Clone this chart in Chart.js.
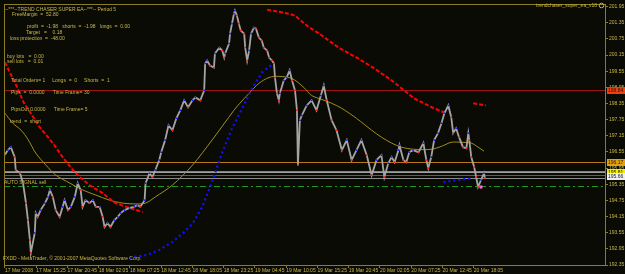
<!DOCTYPE html>
<html>
<head>
<meta charset="utf-8">
<script src="https://cdn.jsdelivr.net/npm/chart.js@4.4.1/dist/chart.umd.min.js"></script>
<style>
  html, body { margin: 0; padding: 0; background: #0b0b06; }
  #wrap { width: 625px; height: 274px; position: relative; }
</style>
</head>
<body>
<div id="wrap"><canvas id="chart"></canvas></div>
<script>
// x values are 5 minute bar numbers, counted from the first bar on screen
const timeLabels = ['17 Mar 2008', '17 Mar 15:25', '17 Mar 20:45', '18 Mar 02:05', '18 Mar 07:25',
  '18 Mar 12:45', '18 Mar 18:05', '18 Mar 23:25', '19 Mar 04:45', '19 Mar 10:05', '19 Mar 15:25',
  '19 Mar 20:45', '20 Mar 02:05', '20 Mar 07:25', '20 Mar 12:45', '20 Mar 18:05'];
const barsPerLabel = 64;
const yTickValues = [192.35, 192.95, 193.55, 194.15, 194.75, 195.35, 195.95, 196.55, 197.15,
  197.75, 198.35, 198.95, 199.55, 200.15, 200.75, 201.35, 201.95];

const priceBars = [0,
  6, 12, 20, 22, 31, 37, 43, 47, 51, 53,
  61, 63, 67, 73, 82, 88, 92, 98, 104, 112,
  118, 122, 129, 135, 143, 149, 155, 159, 165, 173,
  180, 186, 194, 200, 204, 210, 216, 224, 231, 237,
  245, 255, 265, 271, 277, 286, 288, 296, 302, 308,
  316, 320, 328, 335, 343, 351, 359, 367, 375, 384,
  390, 400, 408, 410, 414, 420, 428, 430, 439, 445,
  449, 451, 459, 461, 465, 469, 471, 475, 479, 483,
  490, 492, 496, 500, 504, 510, 514, 520, 526, 530,
  537, 541, 547, 551, 553, 557, 561, 563, 571, 577,
  583, 588, 594, 598, 600, 604, 608, 618, 628, 638,
  647, 653, 659, 669, 679, 690, 700, 710, 720, 730,
  741, 751, 761, 771, 777, 785, 792, 798, 806, 808,
  816, 822, 828, 836, 847, 857, 863, 867, 873, 879,
  887, 894, 900, 908, 914, 918, 924, 930, 938, 945,
  949, 951, 955, 961, 965, 969, 975, 981, 983];
const priceClose = [196.45,
  196.62, 196.73, 196.36, 195.88, 195.76, 195.39, 194.65, 194.02, 193.28, 192.80,
  193.54, 194.28, 194.14, 194.39, 194.65, 194.88, 195.14, 194.88, 194.39, 194.14,
  194.51, 194.76, 194.39, 194.51, 194.88, 195.39, 195.14, 194.51, 194.76, 194.65,
  194.76, 194.51, 194.51, 194.14, 193.76, 193.91, 193.76, 194.02, 194.14, 194.28,
  194.39, 194.47, 194.51, 194.58, 194.51, 194.76, 195.39, 195.76, 195.62, 195.88,
  196.25, 196.54, 196.99, 197.54, 197.36, 197.80, 198.10, 198.47, 198.21, 198.47,
  198.58, 198.47, 198.84, 199.84, 199.95, 199.76, 199.69, 200.21, 200.43, 200.32,
  200.06, 200.21, 200.58, 200.95, 201.32, 201.69, 201.80, 201.62, 201.32, 201.06,
  200.95, 200.43, 199.95, 200.32, 200.95, 201.17, 201.14, 200.80, 200.69, 200.43,
  200.32, 200.06, 199.95, 199.84, 199.32, 198.73, 198.47, 198.73, 199.21, 199.32,
  199.58, 199.21, 198.84, 198.10, 196.06, 197.73, 197.91, 198.28, 198.47, 198.10,
  198.65, 199.02, 198.47, 197.73, 197.36, 196.62, 196.99, 196.25, 196.62, 196.99,
  196.43, 195.69, 196.25, 196.43, 195.62, 196.13, 196.36, 196.17, 196.62, 196.80,
  196.25, 196.17, 196.54, 196.62, 196.54, 196.88, 196.25, 195.95, 196.36, 196.99,
  197.25, 197.62, 197.99, 198.28, 197.84, 197.25, 197.43, 197.10, 196.73, 196.69,
  197.25, 196.99, 196.36, 195.99, 195.62, 195.25, 195.51, 195.76, 195.58];

// moving average (olive line)
const maBars = [0, 16, 33, 47, 63, 84, 104, 133, 159, 186, 214, 241, 267, 288, 308, 343, 384, 424,
  469, 481, 500, 520, 541, 561, 588, 612, 628, 649, 669, 690, 720, 751, 771, 792, 812, 838, 873,
  894, 914, 935, 955, 969, 981];
const maValues = [197.99, 197.62, 197.36, 197.02, 196.51, 196.06, 195.69, 195.39, 195.14, 194.95,
  194.76, 194.65, 194.62, 194.65, 194.88, 195.32, 196.06, 196.99, 198.10, 198.36, 198.73, 199.10,
  199.32, 199.36, 199.28, 198.95, 198.65, 198.50, 198.36, 198.17, 197.80, 197.36, 197.10, 196.88,
  196.73, 196.65, 196.65, 196.76, 196.91, 196.91, 196.88, 196.73, 196.58];

// trailing stops: red above price (short), blue below price (long)
const redStopBars = [0, 12, 24, 39, 53, 71, 90, 104, 118, 139, 153, 173, 200, 226, 255, 282, null,
  537, 561, 581, 594, 618, 649, 683, 724, 757, 792, 838, 879, 904, null, 959, 985];
const redStopValues = [199.88, 199.43, 198.99, 198.36, 197.99, 197.47, 197.06, 196.73, 196.36,
  195.88, 195.62, 195.32, 195.02, 194.65, 194.47, 194.32, null,
  201.84, 201.76, 201.69, 201.62, 201.25, 200.88, 200.43, 200.02, 199.65, 199.21, 198.54, 198.17,
  197.99, null, 198.36, 198.28];
const blueStopBars = [255, 292, 316, 343, 363, 384, 404, 424, 445, 465, 486, 506, 526, 547, null,
  898, 959];
const blueStopValues = [192.62, 192.73, 192.91, 193.21, 193.51, 193.88, 194.51, 195.43, 196.54,
  197.43, 198.17, 198.91, 199.50, 199.80, null, 195.43, 195.58];

const orderBars = [975];
const orderValues = [195.25];

// horizontal levels
const lossLevel = 198.84;
const targetLevel = 196.17;
const bidLevel = 195.81;
const askLevel = 195.66;
const spreadLines = [195.84, 195.80, 195.69, 195.58];
const signalLevel = 195.28;

const infoText = [
  '--***--TREND CHASER SUPER EA--***-- Period 5',
  'FreeMargin  =  52.80',
  'profit  =  -1.98   shorts  =  -1.98   longs  =  0.00',
  'Target   =    0.18',
  'loss protection  =  -48.00',
  'buy lots   =  0.00',
  'sell lots   =  0.01',
  'Total Orders= 1     Longs  =  0     Shorts  =  1',
  'Pips  =  0.0000      Time Frame= 30',
  'PipsOut 0.0000      Time Frame= 5',
  'trend  =  short'
];
const signalText = 'AUTO SIGNAL sell';
const eaName = 'trendchaser_super_ea_v18';
const copyright = 'FXDD - MetaTrader, \u00a9 2001-2007 MetaQuotes Software Corp.';

function toPoints(xs, ys) {
  return xs.map((x, i) => (x === null ? { x: NaN, y: null } : { x: x, y: ys[i] }));
}

const textColor = '#c8b848';
const axisColor = '#8c7c24';

const overlay = {
  id: 'overlay',
  beforeDraw(chart) {
    const ctx = chart.ctx;
    ctx.save();
    ctx.fillStyle = '#0b0b06';
    ctx.fillRect(0, 0, chart.width, chart.height);
    ctx.restore();
  },
  beforeDatasetsDraw(chart) {
    const { ctx, chartArea: a, scales: { y } } = chart;
    ctx.save();
    function hline(v, color, width, dash) {
      const py = Math.round(y.getPixelForValue(v)) + 0.5;
      ctx.strokeStyle = color;
      ctx.lineWidth = width;
      ctx.setLineDash(dash || []);
      ctx.beginPath();
      ctx.moveTo(a.left, py);
      ctx.lineTo(a.right, py);
      ctx.stroke();
    }
    const spreadColors = ['#7c8494', '#a0a0a0', '#5c5c5c', '#8c8c8c'];
    spreadLines.forEach((v, i) => hline(v, spreadColors[i], 1));
    hline(lossLevel, '#9c1414', 1);
    hline(targetLevel, '#b87818', 1);
    hline(signalLevel, '#1e9a1e', 1, [6, 3, 2, 3]);
    ctx.restore();
  },
  afterDraw(chart) {
    const { ctx, chartArea: a, scales: { y } } = chart;
    ctx.save();
    // frame
    ctx.strokeStyle = axisColor;
    ctx.lineWidth = 1;
    ctx.setLineDash([]);
    ctx.strokeRect(a.left + 0.5, a.top + 0.5, a.right - a.left - 1, a.bottom - a.top);

    ctx.font = '5px "Liberation Sans"';
    ctx.textBaseline = 'middle';
    ctx.fillStyle = textColor;
    ctx.textAlign = 'left';
    const infoPos = [[5, 10], [12, 15], [27, 27], [26, 33], [10, 39], [7, 57], [7, 62],
      [11, 81], [11, 93], [11, 110], [10, 122]];
    infoText.forEach((t, i) => ctx.fillText(t, infoPos[i][0], infoPos[i][1]));
    ctx.fillText(signalText, 4, 183);
    ctx.fillText(copyright, 3, 259);
    ctx.textAlign = 'right';
    ctx.fillText(eaName, 597, 6);
    ctx.beginPath();
    ctx.strokeStyle = textColor;
    ctx.arc(601.5, 5.5, 2.3, 0, Math.PI * 2);
    ctx.stroke();

    // price tags on the right axis
    function tag(v, bg, fg) {
      const py = Math.round(y.getPixelForValue(v));
      ctx.fillStyle = bg;
      ctx.fillRect(a.right + 1, py - 3, 18, 7);
      ctx.fillStyle = fg;
      ctx.textAlign = 'left';
      ctx.fillText(v.toFixed(2), a.right + 2, py + 0.5);
    }
    tag(lossLevel, '#f04010', '#2a1000');
    tag(targetLevel, '#e0a010', '#2a1800');
    tag(bidLevel, '#f0f000', '#202000');
    tag(askLevel, '#f0f0f0', '#202020');
    ctx.restore();
  }
};

Chart.defaults.font.family = '"Liberation Sans", sans-serif';
Chart.defaults.font.size = 5;

new Chart(document.getElementById('chart'), {
  type: 'line',
  data: {
    datasets: [
      {
        label: 'order',
        data: toPoints(orderBars, orderValues),
        showLine: false,
        pointStyle: 'circle',
        pointRadius: 1.8,
        pointBackgroundColor: '#ff60d0',
        pointBorderWidth: 0,
        order: 0
      },
      {
        label: 'trend marks',
        data: toPoints(priceBars, priceClose),
        showLine: false,
        pointStyle: 'rect',
        pointRadius: 1.1,
        pointBorderWidth: 0,
        pointBackgroundColor: ctx => {
          const i = ctx.dataIndex;
          if (i === 0) return '#ff1010';
          return priceClose[i] < priceClose[i - 1] ? '#ff1010' : '#1414ff';
        },
        order: 1
      },
      {
        label: 'price',
        data: toPoints(priceBars, priceClose),
        borderColor: '#a4a4a4',
        borderWidth: 1.8,
        pointRadius: 0,
        tension: 0,
        order: 2
      },
      {
        label: 'red stop',
        data: toPoints(redStopBars, redStopValues),
        borderColor: '#ff0000',
        borderWidth: 2,
        borderDash: [4, 2],
        pointRadius: 0,
        spanGaps: false,
        order: 3
      },
      {
        label: 'blue stop',
        data: toPoints(blueStopBars, blueStopValues),
        borderColor: '#1010ff',
        borderWidth: 2.2,
        borderDash: [2, 3],
        pointRadius: 0,
        spanGaps: false,
        order: 4
      },
      {
        label: 'MA',
        data: toPoints(maBars, maValues),
        borderColor: '#a08e22',
        borderWidth: 1,
        pointRadius: 0,
        tension: 0.3,
        order: 5
      }
    ]
  },
  options: {
    responsive: true,
    maintainAspectRatio: false,
    animation: false,
    layout: { padding: { left: 1, top: 3, right: 0, bottom: 0 } },
    plugins: { legend: { display: false }, tooltip: { enabled: false } },
    scales: {
      x: {
        type: 'linear',
        min: -2,
        max: 1231,
        afterBuildTicks: s => { s.ticks = timeLabels.map((t, i) => ({ value: i * barsPerLabel })); },
        afterFit: s => { s.height = 9; },
        grid: { display: true, drawOnChartArea: false, drawTicks: true, tickLength: 3, color: axisColor },
        border: { display: false },
        ticks: {
          autoSkip: false,
          maxRotation: 0,
          align: 'start',
          padding: 0,
          color: textColor,
          font: { size: 5 },
          callback: (v, i) => timeLabels[i]
        }
      },
      y: {
        position: 'right',
        min: 192.35,
        max: 202.05,
        afterBuildTicks: s => { s.ticks = yTickValues.map(v => ({ value: v })); },
        afterFit: s => { s.width = 19; },
        grid: { display: true, drawOnChartArea: false, drawTicks: true, tickLength: 2, color: axisColor },
        border: { display: false },
        ticks: {
          padding: 1,
          color: textColor,
          font: { size: 5 },
          callback: v => v.toFixed(2)
        }
      }
    }
  },
  plugins: [overlay]
});
</script>
</body>
</html>
